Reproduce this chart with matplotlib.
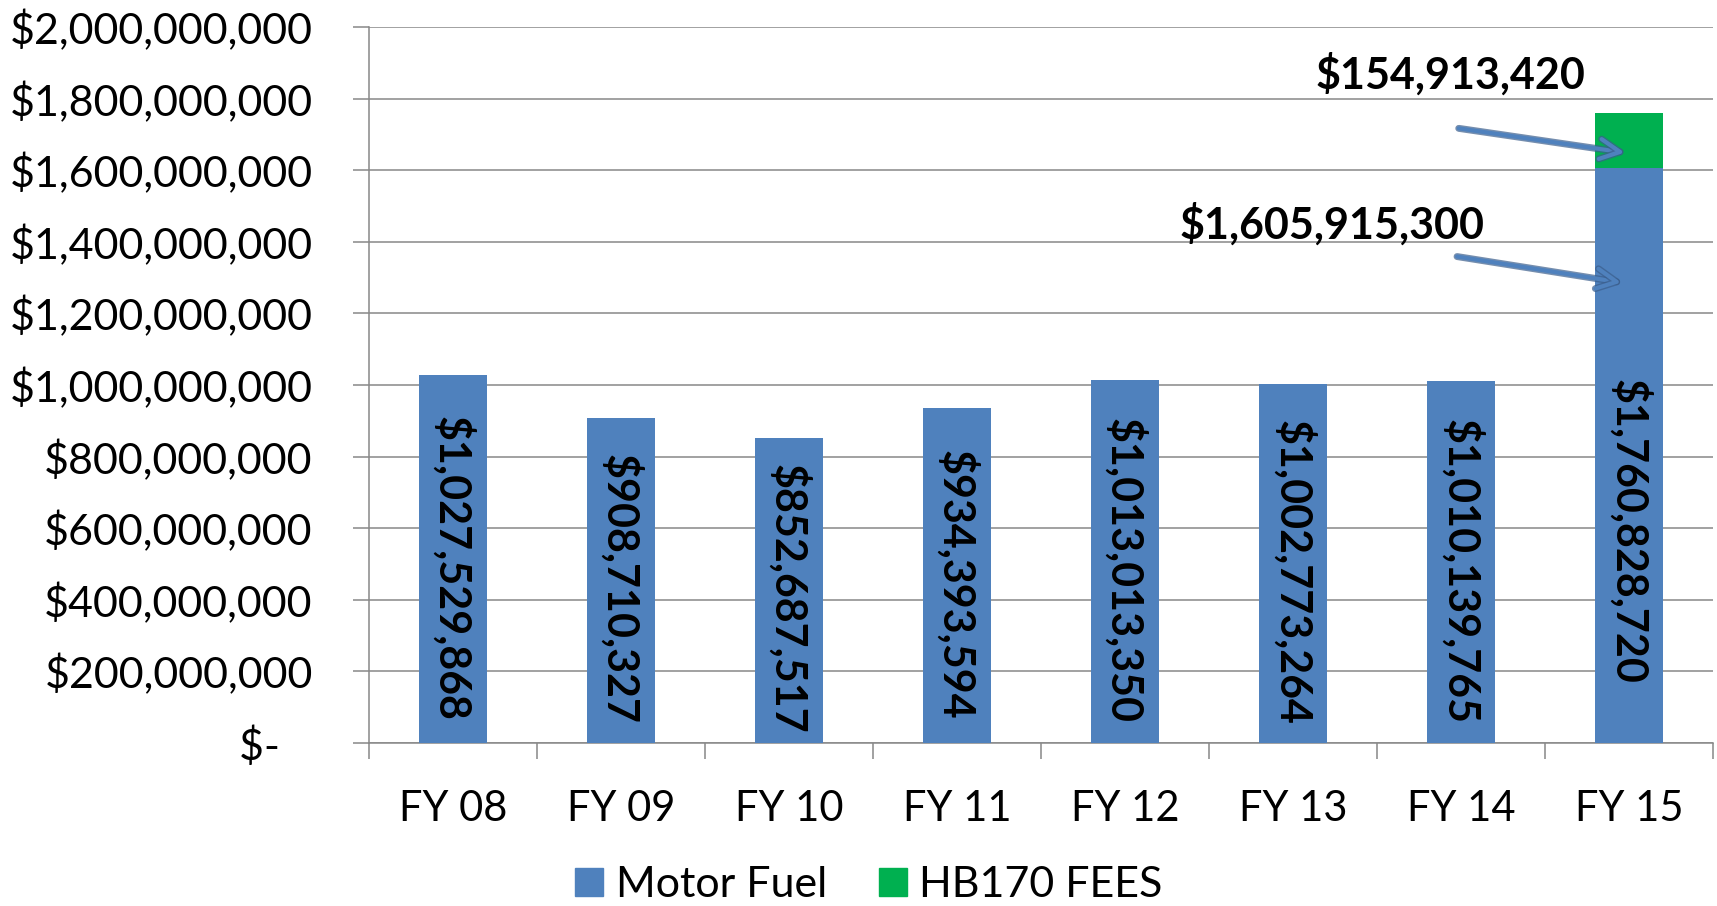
import matplotlib
matplotlib.use('Agg')
import matplotlib.pyplot as plt
import matplotlib.patheffects as pe
from matplotlib.patches import Patch
from matplotlib.ticker import FuncFormatter, MultipleLocator, FixedLocator

# chart data
years = ['FY 08', 'FY 09', 'FY 10', 'FY 11', 'FY 12', 'FY 13', 'FY 14', 'FY 15']
motor_fuel = [1027529868, 908710327, 852687517, 934393594, 1013013350,
              1002773264, 1010139765, 1605915300]
hb170_fees = [0, 0, 0, 0, 0, 0, 0, 154913420]
bar_labels = ['$1,027,529,868', '$908,710,327', '$852,687,517', '$934,393,594',
              '$1,013,013,350', '$1,002,773,264', '$1,010,139,765', '$1,760,828,720']

blue = '#4F81BD'
green = '#00B050'
grid_gray = '#888888'

plt.rcParams['font.family'] = ['Lato', 'DejaVu Sans']

fig = plt.figure(figsize=(17.17, 9.06), dpi=100)
ax = fig.add_axes([0.2149, 0.1799, 0.7828, 0.7903])

x = list(range(len(years)))
ax.bar(x, motor_fuel, width=0.4, color=blue, zorder=3)
ax.bar(x, hb170_fees, width=0.4, bottom=motor_fuel, color=green, zorder=3)

# rotated value labels inside the bars
for i, lab in enumerate(bar_labels):
    if i == len(years) - 1:
        ypos = 590e6
    else:
        ypos = motor_fuel[i] / 2 - 25e6
    ax.text(i, ypos, lab, rotation=-90, ha='center', va='center',
            fontsize=31, fontweight='bold', color='black', zorder=4)

# callouts for FY 15
ax.text(5.94, 1869e6, '$154,913,420', ha='center', va='center',
        fontsize=31, fontweight='bold')
ax.text(5.23, 1450e6, '$1,605,915,300', ha='center', va='center',
        fontsize=31, fontweight='bold')
arrow_fx = [pe.Stroke(linewidth=5, foreground='#3B5E8C', alpha=0.7), pe.Normal()]
a1 = ax.annotate('', xy=(6.99, 1648e6), xytext=(5.97, 1718e6),
                 arrowprops=dict(arrowstyle='->', color=blue, lw=3,
                                 mutation_scale=36), zorder=5)
a2 = ax.annotate('', xy=(6.97, 1285e6), xytext=(5.96, 1360e6),
                 arrowprops=dict(arrowstyle='->', color=blue, lw=3,
                                 mutation_scale=36), zorder=5)
for a in (a1, a2):
    a.arrow_patch.set_path_effects(arrow_fx)

ax.set_xlim(-0.5, len(years) - 0.5)
ax.set_ylim(0, 2e9)

# y axis
ax.yaxis.set_major_locator(MultipleLocator(200e6))
ax.yaxis.set_major_formatter(FuncFormatter(
    lambda v, p: '$-   ' if v == 0 else '${:,.0f}'.format(v)))
ax.tick_params(axis='y', length=11.5, width=1.1, color=grid_gray,
               labelsize=31, pad=29)
ax.grid(axis='y', color=grid_gray, lw=1.1, zorder=0)

# x axis: tick marks between categories, labels at centers
ax.xaxis.set_major_locator(FixedLocator([i - 0.5 for i in range(len(years) + 1)]))
ax.xaxis.set_minor_locator(FixedLocator(x))
ax.set_xticklabels([])
ax.set_xticklabels(years, minor=True)
ax.tick_params(axis='x', which='major', length=11.5, width=1.1, color=grid_gray)
ax.tick_params(axis='x', which='minor', length=0, labelsize=30, pad=34)

for s in ['top', 'right']:
    ax.spines[s].set_visible(False)
for s in ['left', 'bottom']:
    ax.spines[s].set_color(grid_gray)
    ax.spines[s].set_linewidth(1.1)

handles = [Patch(color=blue, label='Motor Fuel'), Patch(color=green, label='HB170 FEES')]
fig.legend(handles=handles, loc='center', bbox_to_anchor=(0.506, 0.023), ncol=2,
           frameon=False, fontsize=31, handlelength=0.65, handleheight=0.65,
           handletextpad=0.3, columnspacing=1.2, borderaxespad=0, borderpad=0)

fig.savefig('out.png', dpi=100)
